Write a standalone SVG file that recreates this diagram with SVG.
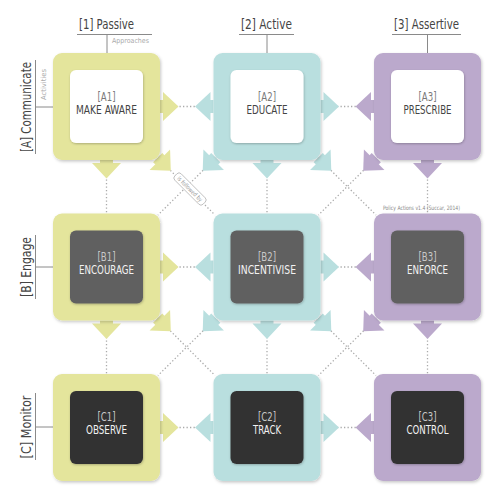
<svg xmlns="http://www.w3.org/2000/svg" xmlns:xlink="http://www.w3.org/1999/xlink" width="500" height="500" viewBox="0 0 500 500">
<defs>
<style>
.f{font-family:"DejaVu Sans Condensed","Liberation Sans Narrow","DejaVu Sans",sans-serif;}
.hd{font-size:14px;fill:#444;text-anchor:middle;}
.sm{font-size:7px;fill:#aaa;}
.ln{stroke:#8a8a8a;stroke-width:1;fill:none;}
.dot{stroke:#aaa;stroke-width:1.3;stroke-dasharray:1.3 2.2;fill:none;}
.y{fill:#e4e59c;} .t{fill:#b9dfdf;} .p{fill:#bba9cc;}
.iw{fill:#ffffff;} .ig{fill:#616161;} .ik{fill:#333333;}
.code{font-size:12.5px;text-anchor:middle;}
.name{font-size:11.5px;text-anchor:middle;}
.cw{fill:#7a7a7a;} .nw{fill:#444;}
.cd{fill:#c8c8c8;} .nd{fill:#f2f2f2;}
</style>
<filter id="sh" x="-20%" y="-20%" width="140%" height="140%">
<feDropShadow dx="1" dy="1.5" stdDeviation="1.8" flood-color="#000" flood-opacity="0.22"/>
</filter>
<filter id="sh2" x="-20%" y="-20%" width="140%" height="140%">
<feDropShadow dx="0.5" dy="1" stdDeviation="1.2" flood-color="#000" flood-opacity="0.25"/>
</filter>
<g id="arr"><rect x="0" y="-6.5" width="5" height="13"/><path d="M3,-14.5 L18.5,0 L3,14.5 Z"/></g>
</defs>

<rect width="500" height="500" fill="#fff"/>

<!-- headers -->
<g id="headers">
<text class="f hd" x="106.5" y="29" textLength="55" lengthAdjust="spacingAndGlyphs">[1] Passive</text>
<path class="ln" d="M77,34.5 H152 M107,34.5 V53"/>
<text class="f sm" x="112" y="43" textLength="37" lengthAdjust="spacingAndGlyphs">Approaches</text>
<text class="f hd" x="266.5" y="29" textLength="51" lengthAdjust="spacingAndGlyphs">[2] Active</text>
<path class="ln" d="M239,34.5 H294 M267,34.5 V53"/>
<text class="f hd" x="426.5" y="29" textLength="65" lengthAdjust="spacingAndGlyphs">[3] Assertive</text>
<path class="ln" d="M392,34.5 H461 M427.5,34.5 V53"/>

<text class="f hd" transform="translate(31,107) rotate(-90)" textLength="90" lengthAdjust="spacingAndGlyphs">[A] Communicate</text>
<path class="ln" d="M35.5,60 V154 M35.5,107 H53"/>
<text class="f sm" transform="translate(45.5,100) rotate(-90)" textLength="31" lengthAdjust="spacingAndGlyphs">Activities</text>
<text class="f hd" transform="translate(31,267) rotate(-90)" textLength="60" lengthAdjust="spacingAndGlyphs">[B] Engage</text>
<path class="ln" d="M35.5,235 V299 M35.5,267 H53"/>
<text class="f hd" transform="translate(31,427) rotate(-90)" textLength="63" lengthAdjust="spacingAndGlyphs">[C] Monitor</text>
<path class="ln" d="M35.5,393 V460 M35.5,427 H53"/>
</g>

<g id="connectors">
<path class="dot" d="M176,106.5 H197 M337,106.5 H357 M176,267 H197 M337,267 H357 M176,427.5 H197 M337,427.5 H357"/>
<path class="dot" d="M106.5,176 V213 M267,176 V213 M427.5,176 V213 M106.5,337 V374 M267,337 V374 M427.5,337 V374"/>
<path class="dot" d="M158,158 L215,215 M215.5,158 L158,215 M318.5,158 L376,215 M376,158 L318.5,215 M158,318.5 L215,375.5 M215.5,318.5 L158,375.5 M318.5,318.5 L376,375.5 M376,318.5 L318.5,375.5"/>
<g class="y">
<use xlink:href="#arr" transform="translate(160,106.5)"/>
<use xlink:href="#arr" transform="translate(106.5,160) rotate(90)"/>
<use xlink:href="#arr" transform="translate(157.7,157.7) rotate(45)"/>
<use xlink:href="#arr" transform="translate(160,267)"/>
<use xlink:href="#arr" transform="translate(106.5,320.5) rotate(90)"/>
<use xlink:href="#arr" transform="translate(157.7,318.2) rotate(45)"/>
<use xlink:href="#arr" transform="translate(160,427.5)"/>
</g>
<g class="t">
<use xlink:href="#arr" transform="translate(213.5,106.5) rotate(180)"/>
<use xlink:href="#arr" transform="translate(320.5,106.5)"/>
<use xlink:href="#arr" transform="translate(267,160) rotate(90)"/>
<use xlink:href="#arr" transform="translate(215.8,157.7) rotate(135)"/>
<use xlink:href="#arr" transform="translate(318.2,157.7) rotate(45)"/>
<use xlink:href="#arr" transform="translate(213.5,267) rotate(180)"/>
<use xlink:href="#arr" transform="translate(320.5,267)"/>
<use xlink:href="#arr" transform="translate(267,320.5) rotate(90)"/>
<use xlink:href="#arr" transform="translate(215.8,318.2) rotate(135)"/>
<use xlink:href="#arr" transform="translate(318.2,318.2) rotate(45)"/>
<use xlink:href="#arr" transform="translate(213.5,427.5) rotate(180)"/>
<use xlink:href="#arr" transform="translate(320.5,427.5)"/>
</g>
<g class="p">
<use xlink:href="#arr" transform="translate(374,106.5) rotate(180)"/>
<use xlink:href="#arr" transform="translate(427.5,160) rotate(90)"/>
<use xlink:href="#arr" transform="translate(376.3,157.7) rotate(135)"/>
<use xlink:href="#arr" transform="translate(374,267) rotate(180)"/>
<use xlink:href="#arr" transform="translate(427.5,320.5) rotate(90)"/>
<use xlink:href="#arr" transform="translate(376.3,318.2) rotate(135)"/>
<use xlink:href="#arr" transform="translate(374,427.5) rotate(180)"/>
</g>
<g id="label-followed" transform="translate(190,189) rotate(45)">
<rect x="-20" y="-4.5" width="40" height="9" rx="3" fill="#fff" stroke="#b5b5b5" stroke-width="0.8"/>
<text class="f" x="0" y="2.2" font-size="6" fill="#999" text-anchor="middle" textLength="33" lengthAdjust="spacingAndGlyphs">is followed by</text>
</g>
</g>

<g id="node-A1"><rect class="y" x="53" y="53" width="107" height="107" rx="9" filter="url(#sh)"/><rect class="iw" x="70" y="70" width="73" height="73" rx="6" filter="url(#sh2)"/><text class="f code cw" x="106.5" y="100.5" textLength="18" lengthAdjust="spacingAndGlyphs">[A1]</text><text class="f name nw" x="106.5" y="113.5" textLength="61" lengthAdjust="spacingAndGlyphs">MAKE AWARE</text></g>
<g id="node-A2"><rect class="t" x="213.5" y="53" width="107" height="107" rx="9" filter="url(#sh)"/><rect class="iw" x="230.5" y="70" width="73" height="73" rx="6" filter="url(#sh2)"/><text class="f code cw" x="267" y="100.5" textLength="18" lengthAdjust="spacingAndGlyphs">[A2]</text><text class="f name nw" x="267" y="113.5" textLength="41" lengthAdjust="spacingAndGlyphs">EDUCATE</text></g>
<g id="node-A3"><rect class="p" x="374" y="53" width="107" height="107" rx="9" filter="url(#sh)"/><rect class="iw" x="391" y="70" width="73" height="73" rx="6" filter="url(#sh2)"/><text class="f code cw" x="427.5" y="100.5" textLength="18" lengthAdjust="spacingAndGlyphs">[A3]</text><text class="f name nw" x="427.5" y="113.5" textLength="48" lengthAdjust="spacingAndGlyphs">PRESCRIBE</text></g>

<g id="node-B1"><rect class="y" x="53" y="213.5" width="107" height="107" rx="9" filter="url(#sh)"/><rect class="ig" x="70" y="230.5" width="73" height="73" rx="6" filter="url(#sh2)"/><text class="f code cd" x="106.5" y="261" textLength="18" lengthAdjust="spacingAndGlyphs">[B1]</text><text class="f name nd" x="106.5" y="274" textLength="55" lengthAdjust="spacingAndGlyphs">ENCOURAGE</text></g>
<g id="node-B2"><rect class="t" x="213.5" y="213.5" width="107" height="107" rx="9" filter="url(#sh)"/><rect class="ig" x="230.5" y="230.5" width="73" height="73" rx="6" filter="url(#sh2)"/><text class="f code cd" x="267" y="261" textLength="18" lengthAdjust="spacingAndGlyphs">[B2]</text><text class="f name nd" x="267" y="274" textLength="58" lengthAdjust="spacingAndGlyphs">INCENTIVISE</text></g>
<g id="node-B3"><rect class="p" x="374" y="213.5" width="107" height="107" rx="9" filter="url(#sh)"/><rect class="ig" x="391" y="230.5" width="73" height="73" rx="6" filter="url(#sh2)"/><text class="f code cd" x="427.5" y="261" textLength="18" lengthAdjust="spacingAndGlyphs">[B3]</text><text class="f name nd" x="427.5" y="274" textLength="41" lengthAdjust="spacingAndGlyphs">ENFORCE</text></g>

<g id="node-C1"><rect class="y" x="53" y="374" width="107" height="107" rx="9" filter="url(#sh)"/><rect class="ik" x="70" y="391" width="73" height="73" rx="6" filter="url(#sh2)"/><text class="f code cd" x="106.5" y="421" textLength="18" lengthAdjust="spacingAndGlyphs">[C1]</text><text class="f name nd" x="106.5" y="434" textLength="41" lengthAdjust="spacingAndGlyphs">OBSERVE</text></g>
<g id="node-C2"><rect class="t" x="213.5" y="374" width="107" height="107" rx="9" filter="url(#sh)"/><rect class="ik" x="230.5" y="391" width="73" height="73" rx="6" filter="url(#sh2)"/><text class="f code cd" x="267" y="421" textLength="18" lengthAdjust="spacingAndGlyphs">[C2]</text><text class="f name nd" x="267" y="434" textLength="28" lengthAdjust="spacingAndGlyphs">TRACK</text></g>
<g id="node-C3"><rect class="p" x="374" y="374" width="107" height="107" rx="9" filter="url(#sh)"/><rect class="ik" x="391" y="391" width="73" height="73" rx="6" filter="url(#sh2)"/><text class="f code cd" x="427.5" y="421" textLength="18" lengthAdjust="spacingAndGlyphs">[C3]</text><text class="f name nd" x="427.5" y="434" textLength="42" lengthAdjust="spacingAndGlyphs">CONTROL</text></g>

<text class="f" x="421.5" y="210" font-size="6" fill="#888" text-anchor="middle" textLength="77" lengthAdjust="spacingAndGlyphs">Policy Actions v1.4 (Succar, 2014)</text>
</svg>
